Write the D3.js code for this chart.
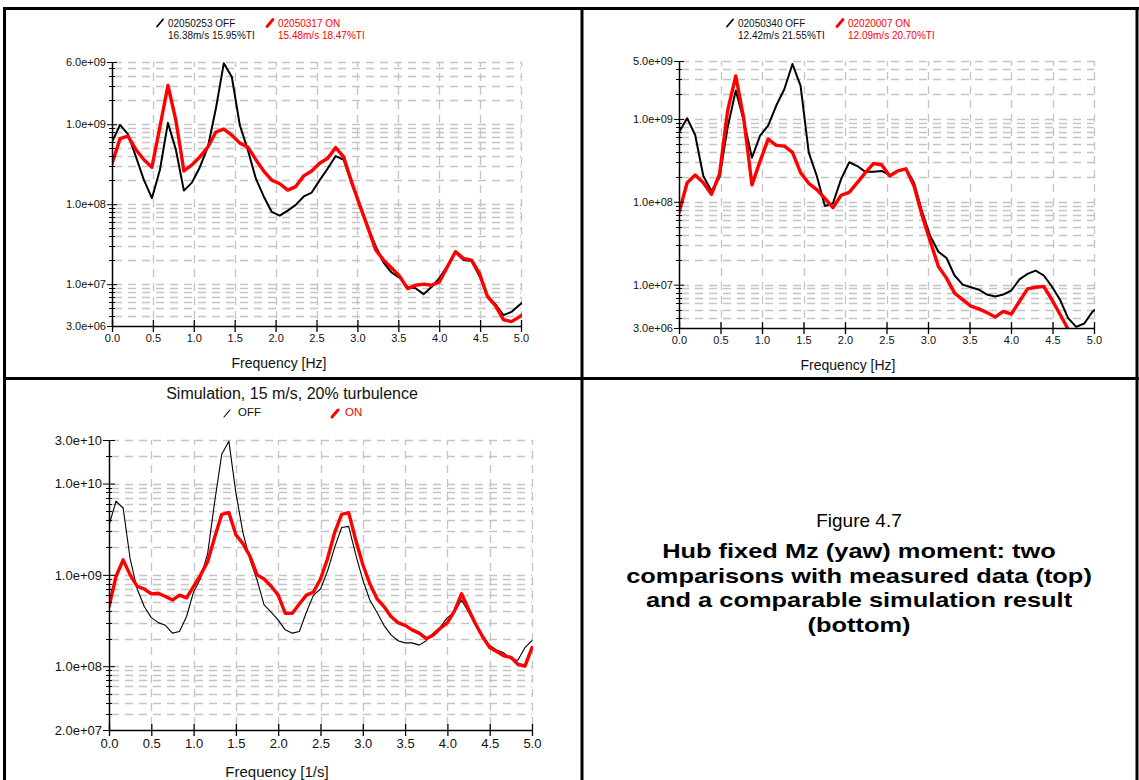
<!DOCTYPE html>
<html>
<head>
<meta charset="utf-8">
<script src="https://cdn.jsdelivr.net/npm/d3@7"></script>
<style>
  body { margin: 0; background: #fff; }
  svg { display: block; }
  text { font-family: "Liberation Sans", Arial, Helvetica, sans-serif; }
</style>
</head>
<body>
<svg id="fig" width="1139" height="780"></svg>
<script>
// ---- frequency bins ----
const freqMeasured = [0.000, 0.098, 0.195, 0.293, 0.391, 0.488, 0.586, 0.684, 0.781, 0.879,
  0.977, 1.074, 1.172, 1.270, 1.367, 1.465, 1.563, 1.660, 1.758, 1.855,
  1.953, 2.051, 2.148, 2.246, 2.344, 2.441, 2.539, 2.637, 2.734, 2.832,
  2.930, 3.027, 3.125, 3.223, 3.320, 3.418, 3.516, 3.613, 3.711, 3.809,
  3.906, 4.004, 4.102, 4.199, 4.297, 4.395, 4.492, 4.590, 4.688, 4.785,
  4.883, 4.980, 5.078];

const freqSim = [0.000, 0.083, 0.167, 0.250, 0.333, 0.417, 0.500, 0.583, 0.667, 0.750,
  0.833, 0.917, 1.000, 1.083, 1.167, 1.250, 1.333, 1.417, 1.500, 1.583,
  1.667, 1.750, 1.833, 1.917, 2.000, 2.083, 2.167, 2.250, 2.333, 2.417,
  2.500, 2.583, 2.667, 2.750, 2.833, 2.917, 3.000, 3.083, 3.167, 3.250,
  3.333, 3.417, 3.500, 3.583, 3.667, 3.750, 3.833, 3.917, 4.000, 4.083,
  4.167, 4.250, 4.333, 4.417, 4.500, 4.583, 4.667, 4.750, 4.833, 4.917, 5.000];

// ---- spectra: run 02050253 (OFF) vs 02050317 (ON) ----
const run253Off = [6.0e8, 9.8e8, 7.5e8, 3.9e8, 2.0e8, 1.19e8, 2.7e8, 1.04e9, 4.8e8, 1.48e8,
  1.86e8, 2.9e8, 5.2e8, 1.57e9, 5.8e9, 3.9e9, 9.7e8, 4.8e8, 2.1e8, 1.25e8,
  8.0e7, 7.2e7, 8.3e7, 9.8e7, 1.25e8, 1.4e8, 2.0e8, 2.8e8, 4.0e8, 3.6e8,
  1.8e8, 1.0e8, 5.3e7, 3.0e7, 1.86e7, 1.4e7, 1.2e7, 9.3e6, 8.9e6, 7.5e6,
  9.2e6, 1.2e7, 1.7e7, 2.5e7, 2.0e7, 1.95e7, 1.26e7, 7.2e6, 5.6e6, 4.1e6,
  4.5e6, 5.5e6, 6.5e6];
const run317On = [3.2e8, 6.6e8, 7.1e8, 4.8e8, 3.6e8, 2.9e8, 9.3e8, 3.05e9, 1.12e9, 2.6e8,
  3.1e8, 3.9e8, 5.2e8, 8.0e8, 8.7e8, 7.3e8, 5.8e8, 5.2e8, 3.6e8, 2.6e8,
  2.0e8, 1.8e8, 1.5e8, 1.66e8, 2.26e8, 2.6e8, 3.25e8, 3.75e8, 5.1e8, 3.9e8,
  1.9e8, 9.8e7, 5.2e7, 2.7e7, 2.0e7, 1.6e7, 1.26e7, 8.8e6, 9.7e6, 1.0e7,
  9.7e6, 1.07e7, 1.66e7, 2.55e7, 2.1e7, 2.0e7, 1.37e7, 7.0e6, 5.4e6, 3.6e6,
  3.4e6, 3.9e6, 4.6e6];

// ---- spectra: run 02050340 (OFF) vs 02020007 (ON) ----
const run340Off = [6.9e8, 1.02e9, 6.4e8, 2.05e8, 1.35e8, 1.96e8, 7.9e8, 2.2e9, 9.5e8, 3.4e8,
  6.3e8, 8.3e8, 1.45e9, 2.3e9, 4.6e9, 2.5e9, 3.95e8, 2.05e8, 8.9e7, 9.6e7,
  1.88e8, 3.0e8, 2.7e8, 2.3e8, 2.3e8, 2.36e8, 2.1e8, 2.36e8, 2.5e8, 1.7e8,
  7.5e7, 3.86e7, 2.5e7, 2.1e7, 1.29e7, 1.0e7, 9.3e6, 8.7e6, 7.6e6, 7.2e6,
  7.6e6, 8.5e6, 1.16e7, 1.35e7, 1.48e7, 1.29e7, 9.5e6, 6.6e6, 3.95e6, 3.1e6,
  3.4e6, 4.7e6, 5.6e6];
const run007On = [7.4e7, 1.7e8, 2.1e8, 1.7e8, 1.23e8, 2.15e8, 1.26e9, 3.3e9, 1.0e9, 1.6e8,
  3.1e8, 5.7e8, 4.8e8, 4.7e8, 3.95e8, 2.25e8, 1.67e8, 1.4e8, 1.1e8, 8.5e7,
  1.2e8, 1.3e8, 1.7e8, 2.25e8, 2.9e8, 2.8e8, 2.05e8, 2.36e8, 2.5e8, 1.55e8,
  6.8e7, 3.35e7, 1.66e7, 1.2e7, 7.9e6, 6.6e6, 5.5e6, 5.1e6, 4.6e6, 4.06e6,
  4.75e6, 4.4e6, 6.3e6, 8.9e6, 9.3e6, 9.5e6, 6.6e6, 4.4e6, 2.9e6, 2.1e6,
  1.6e6, 1.3e6, 1.1e6];

// ---- simulation, 15 m/s, 20% turbulence ----
const simOff = [3.5e9, 6.4e9, 5.4e9, 1.5e9, 7.0e8, 4.5e8, 3.4e8, 3.0e8, 2.8e8, 2.3e8,
  2.4e8, 3.5e8, 6.5e8, 9.2e8, 1.73e9, 6.4e9, 2.1e10, 2.9e10, 7.9e9, 2.9e9,
  1.46e9, 8.8e8, 4.7e8, 3.9e8, 3.2e8, 2.5e8, 2.3e8, 2.4e8, 3.9e8, 6.0e8,
  7.0e8, 1.1e9, 2.0e9, 3.3e9, 3.4e9, 1.66e9, 8.8e8, 5.3e8, 3.9e8, 2.8e8,
  2.2e8, 1.9e8, 1.8e8, 1.8e8, 1.7e8, 1.9e8, 2.3e8, 2.7e8, 3.4e8, 3.9e8,
  5.3e8, 3.9e8, 2.8e8, 2.0e8, 1.7e8, 1.5e8, 1.4e8, 1.2e8, 1.16e8, 1.6e8, 1.9e8];
const simOn = [4.5e8, 9.6e8, 1.46e9, 1.0e9, 7.5e8, 7.0e8, 6.2e8, 6.3e8, 5.8e8, 5.3e8,
  6.0e8, 5.6e8, 7.5e8, 1.0e9, 1.4e9, 2.6e9, 4.6e9, 4.8e9, 2.75e9, 2.2e9,
  1.6e9, 1.0e9, 9.0e8, 7.5e8, 6.0e8, 3.8e8, 3.8e8, 4.8e8, 6.0e8, 6.5e8,
  9.0e8, 1.5e9, 2.9e9, 4.6e9, 4.8e9, 2.4e9, 1.3e9, 8.0e8, 5.5e8, 4.5e8,
  3.5e8, 3.0e8, 2.8e8, 2.5e8, 2.3e8, 2.0e8, 2.2e8, 2.6e8, 3.0e8, 4.0e8,
  6.2e8, 4.2e8, 2.9e8, 2.1e8, 1.6e8, 1.45e8, 1.3e8, 1.25e8, 1.05e8, 1.0e8, 1.6e8];

// ---- axis ticks and labels ----
const freqTicks = [0.0, 0.5, 1.0, 1.5, 2.0, 2.5, 3.0, 3.5, 4.0, 4.5, 5.0];
const yTicksA = [6e9, 1e9, 1e8, 1e7, 3e6];
const yLabelsA = ["6.0e+09", "1.0e+09", "1.0e+08", "1.0e+07", "3.0e+06"];
const yTicksB = [5e9, 1e9, 1e8, 1e7, 3e6];
const yLabelsB = ["5.0e+09", "1.0e+09", "1.0e+08", "1.0e+07", "3.0e+06"];
const yTicksC = [3e10, 1e10, 1e9, 1e8, 2e7];
const yLabelsC = ["3.0e+10", "1.0e+10", "1.0e+09", "1.0e+08", "2.0e+07"];

// ---- legend texts ----
const legendA = [["02050253 OFF", "16.38m/s 15.95%TI"], ["02050317 ON", "15.48m/s 18.47%TI"]];
const legendB = [["02050340 OFF", "12.42m/s 21.55%TI"], ["02020007 ON", "12.09m/s 20.70%TI"]];
const legendC = ["OFF", "ON"];
const simTitle = "Simulation, 15 m/s, 20% turbulence";
const captionHead = "Figure 4.7";
const captionBody = ["Hub fixed Mz (yaw) moment: two", "comparisons with measured data (top)",
  "and a comparable simulation result", "(bottom)"];

const RED = "#ff0000";
const svg = d3.select("#fig");
svg.append("rect").attr("width", 1139).attr("height", 780).attr("fill", "#fff");

let clipId = 0;
function drawPanel(o) {
  const g = svg.append("g");
  const x = d3.scaleLinear().domain([0, 5]).range([o.left, o.right]);
  const y = d3.scaleLog().domain(o.yDomain).range([o.bottom, o.top]);

  // dashed grid
  const grid = g.append("g").attr("stroke", "#c4c4c4").attr("stroke-width", 1.3)
    .attr("stroke-dasharray", "8,6").attr("fill", "none");
  const yGrid = y.ticks().filter(v => v > o.yDomain[0] * 1.0001);
  grid.selectAll("line.h").data(yGrid).join("line")
    .attr("x1", o.left + 2).attr("x2", o.right)
    .attr("y1", d => Math.round(y(d)) + 0.5).attr("y2", d => Math.round(y(d)) + 0.5);
  grid.selectAll("line.v").data(freqTicks.filter(f => f > 0)).join("line")
    .attr("x1", d => Math.round(x(d)) + 0.5).attr("x2", d => Math.round(x(d)) + 0.5)
    .attr("y1", o.top).attr("y2", o.bottom)
    .attr("stroke-dashoffset", 3);

  // spectra
  const id = "clip" + (clipId++);
  g.append("clipPath").attr("id", id).append("rect")
    .attr("x", o.left).attr("y", o.top - 2)
    .attr("width", o.right - o.left + 1).attr("height", o.bottom - o.top + 2);
  const line = d3.line().x(d => x(d[0])).y(d => y(d[1]));
  o.series.forEach(s => {
    g.append("path")
      .datum(o.freq.map((f, i) => [f, s.values[i]]))
      .attr("clip-path", `url(#${id})`)
      .attr("fill", "none").attr("stroke", s.color).attr("stroke-width", s.width)
      .attr("stroke-linejoin", "round").attr("stroke-linecap", "round")
      .attr("d", line);
  });

  // minor y ticks
  const minor = y.ticks().filter(v => !o.yTicks.some(t => Math.abs(t - v) / t < 1e-6));
  g.append("g").attr("stroke", "#000").attr("stroke-width", 1)
    .selectAll("line").data(minor).join("line")
    .attr("x1", o.left - 3).attr("x2", o.left + 3)
    .attr("y1", d => Math.round(y(d)) + 0.5).attr("y2", d => Math.round(y(d)) + 0.5);

  // y axis
  const yAxis = g.append("g").attr("transform", `translate(${o.left},0)`)
    .call(d3.axisLeft(y).tickValues(o.yTicks).tickFormat((d, i) => o.yLabels[i])
      .tickSize(o.majorTick).tickSizeOuter(0).tickPadding(1));
  yAxis.selectAll(".tick line").attr("x1", o.majorTick).attr("stroke-width", 1);
  yAxis.select(".domain").attr("stroke-width", 1.5);
  yAxis.selectAll("text").attr("font-size", o.tickFont).attr("font-family", null).attr("fill", "#111");

  // x axis
  const xAxis = g.append("g").attr("transform", `translate(0,${o.bottom})`)
    .call(d3.axisBottom(x).tickValues(freqTicks).tickFormat(d3.format(".1f"))
      .tickSize(6).tickSizeOuter(0).tickPadding(o.xPad));
  xAxis.selectAll(".tick line").attr("y1", -6).attr("stroke-width", 1.3);
  xAxis.select(".domain").attr("stroke-width", 1.5);
  xAxis.selectAll("text").attr("font-size", o.tickFont).attr("font-family", null).attr("fill", "#111");

  g.append("text").attr("x", o.xLabelX).attr("y", o.xLabelY).attr("text-anchor", "middle")
    .attr("font-size", o.xLabelFont).attr("fill", "#111").text(o.xLabel);
  return g;
}

function marker(x0, y0, color, w) {
  svg.append("line").attr("x1", x0).attr("y1", y0).attr("x2", x0 + 6).attr("y2", y0 - 7)
    .attr("stroke", color).attr("stroke-width", w).attr("stroke-linecap", "round");
}

function twoLineLegend(entries, xs, fontSize) {
  entries.forEach((lines, i) => {
    const color = i === 0 ? "#000" : RED;
    marker(xs[i] - 11, 26.5, color, i === 0 ? 1.8 : 2.8);
    lines.forEach((t, j) => {
      svg.append("text").attr("x", xs[i]).attr("y", 26.5 + j * 12.5)
        .attr("font-size", fontSize).attr("fill", i === 0 ? "#111" : RED).text(t);
    });
  });
}

// top-left: runs 253 / 317
drawPanel({
  left: 112, right: 521, top: 62, bottom: 326, yDomain: [3e6, 6e9],
  yTicks: yTicksA, yLabels: yLabelsA, majorTick: 5, tickFont: 11, xPad: 2,
  xLabel: "Frequency [Hz]", xLabelX: 279, xLabelY: 368, xLabelFont: 14,
  freq: freqMeasured,
  series: [{ values: run253Off, color: "#000", width: 2 }, { values: run317On, color: RED, width: 3.4 }]
});
twoLineLegend(legendA, [168, 278], 10);

// top-right: runs 340 / 007
drawPanel({
  left: 679, right: 1094, top: 61, bottom: 328, yDomain: [3e6, 5e9],
  yTicks: yTicksB, yLabels: yLabelsB, majorTick: 5, tickFont: 11, xPad: 2,
  xLabel: "Frequency [Hz]", xLabelX: 848, xLabelY: 370, xLabelFont: 14,
  freq: freqMeasured,
  series: [{ values: run340Off, color: "#000", width: 2 }, { values: run007On, color: RED, width: 3.4 }]
});
twoLineLegend(legendB, [738, 848], 10);

// bottom-left: simulation
drawPanel({
  left: 109, right: 532, top: 440, bottom: 730, yDomain: [2e7, 3e10],
  yTicks: yTicksC, yLabels: yLabelsC, majorTick: 6, tickFont: 13, xPad: 3,
  xLabel: "Frequency [1/s]", xLabelX: 277, xLabelY: 777, xLabelFont: 15,
  freq: freqSim,
  series: [{ values: simOff, color: "#000", width: 1.1 }, { values: simOn, color: RED, width: 3.4 }]
});
svg.append("text").attr("x", 292).attr("y", 399).attr("text-anchor", "middle")
  .attr("font-size", 16).attr("fill", "#111").text(simTitle);
marker(224, 417, "#000", 1.1);
svg.append("text").attr("x", 238).attr("y", 416).attr("font-size", 11.5).attr("fill", "#111").text(legendC[0]);
marker(332, 417, RED, 3);
svg.append("text").attr("x", 345).attr("y", 416).attr("font-size", 11.5).attr("fill", RED).text(legendC[1]);

// caption cell (bold lines set slightly wide)
svg.append("text").attr("x", 859).attr("y", 527).attr("text-anchor", "middle")
  .attr("font-size", 19).attr("fill", "#000").text(captionHead);
const caption = svg.append("g").attr("transform", "translate(859,0) scale(1.21,1)");
captionBody.forEach((t, i) => {
  caption.append("text").attr("x", 0).attr("y", 558 + i * 24.7).attr("text-anchor", "middle")
    .attr("font-size", 21).attr("font-weight", "bold").attr("fill", "#000").text(t);
});

// table frame
const frame = svg.append("g").attr("stroke", "#000").attr("stroke-width", 3);
frame.append("line").attr("x1", 3).attr("x2", 1139).attr("y1", 8.5).attr("y2", 8.5);
frame.append("line").attr("x1", 4.5).attr("x2", 4.5).attr("y1", 7).attr("y2", 780);
frame.append("line").attr("x1", 1137).attr("x2", 1137).attr("y1", 7).attr("y2", 780);
frame.append("line").attr("x1", 582).attr("x2", 582).attr("y1", 7).attr("y2", 780);
frame.append("line").attr("x1", 3).attr("x2", 1139).attr("y1", 378.5).attr("y2", 378.5);
</script>
</body>
</html>
